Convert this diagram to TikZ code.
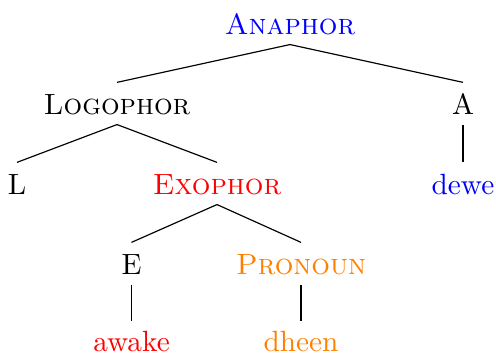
\documentclass[tikz,border=0pt]{standalone}
\begin{document}
\begin{tikzpicture}[x=0.3413pt,y=-0.3413pt,
  lab/.style={anchor=base,inner sep=0pt,text height=10.6pt,text depth=3.4pt},
  leaf/.style={lab,text height=10.3pt,text depth=0pt},
  edge/.style={line width=0.4pt}]
\useasboundingbox (0,0) rectangle (496,353);
\node[lab,text=blue] (ana) at (290,34) {\textsc{Anaphor}};
\node[lab] (logo) at (117,114) {\textsc{Logophor}};
\node[lab] (a) at (463,114) {A};
\node[lab] (l) at (17,194) {L};
\node[lab,text=red] (exo) at (217,194) {\textsc{Exophor}};
\node[lab,text=blue] (dewe) at (463,194) {dewe};
\node[lab] (e) at (131.5,274) {E};
\node[lab,text=orange] (pro) at (301,274) {\textsc{Pronoun}};
\node[leaf,text=red] (awake) at (131.5,351.3) {awake};
\node[leaf,text=orange] (dheen) at (301,351.3) {dheen};
\draw[edge] (ana.south) -- (logo.north);
\draw[edge] (ana.south) -- (a.north);
\draw[edge] (logo.south) -- (l.north);
\draw[edge] (logo.south) -- (exo.north);
\draw[edge] (a.south) -- (dewe.north);
\draw[edge] (exo.south) -- (e.north);
\draw[edge] (exo.south) -- (pro.north);
\draw[edge] (e.south) -- (awake.north);
\draw[edge] (pro.south) -- (dheen.north);
\end{tikzpicture}
\end{document}
